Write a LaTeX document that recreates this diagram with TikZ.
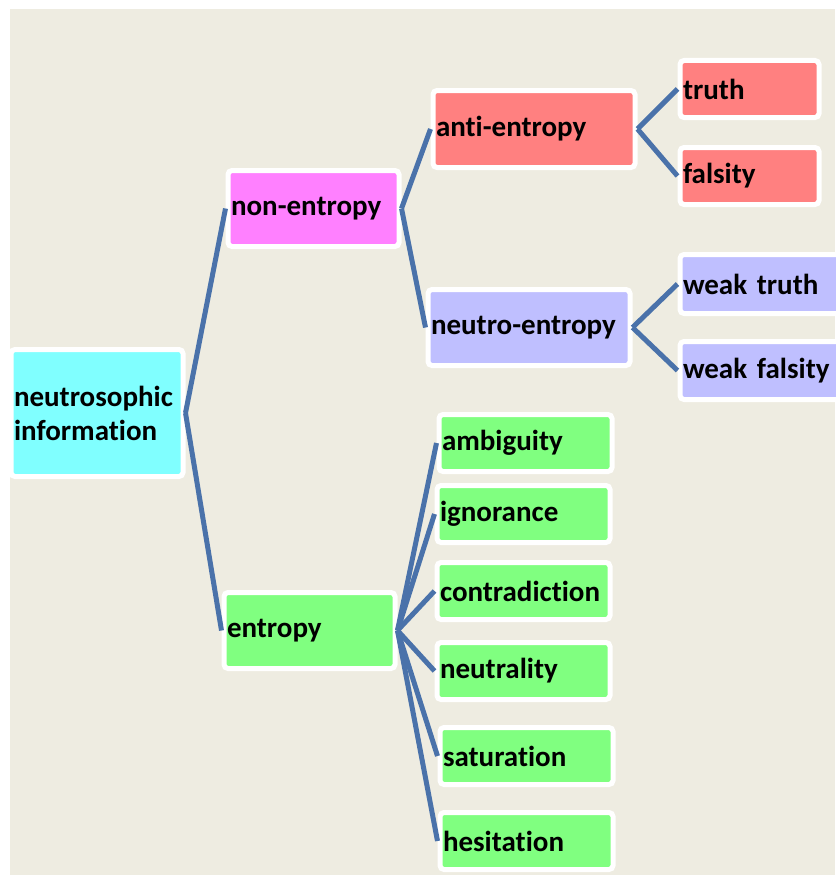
\documentclass[tikz,border=0pt]{standalone}
\usepackage{fontspec}
\setmainfont{Carlito}[Ligatures=NoCommon]
\definecolor{bgtan}{HTML}{EEECE1}
\definecolor{linkblue}{HTML}{4A72AA}
\definecolor{infocyan}{HTML}{80FFFF}
\definecolor{nonpink}{HTML}{FF80FF}
\definecolor{antired}{HTML}{FF8080}
\definecolor{neutrolav}{HTML}{BFBFFF}
\definecolor{entgreen}{HTML}{80FF80}

\begin{document}
\begin{tikzpicture}[x=1pt, y=-1pt,
  box/.style={rectangle, rounded corners=4pt, draw=white, line width=5pt,
    anchor=west, inner xsep=3pt, inner ysep=0pt, align=left,
    font=\bfseries\fontsize{29}{34}\selectfont, minimum height=57pt},
  branch/.style={line width=5pt, draw=linkblue}]

\useasboundingbox (0,0) rectangle (835,875);
\fill[bgtan] (10,9) rectangle (835,875);

\node[box, fill=infocyan, text width=166pt, minimum height=127pt] (info) at (8.5,413) {neutrosophic\\information};

\node[box, fill=nonpink, text width=165pt, minimum height=76pt] (non) at (225.5,208.5) {non-entropy};
\node[box, fill=entgreen, text width=165pt, minimum height=76pt] (ent) at (221.5,630.5) {entropy};

\node[box, fill=antired, text width=196pt, minimum height=77pt] (anti) at (430.5,129) {anti-entropy};
\node[box, fill=neutrolav, text width=196pt, minimum height=76pt] (neutro) at (425.5,327.5) {neutro-entropy};

\node[box, fill=antired, text width=133pt] (truth) at (677.5,89) {truth};
\node[box, fill=antired, text width=133pt] (fals) at (677.5,176) {falsity};
\node[box, fill=neutrolav, text width=166pt, minimum height=59pt] (wtruth) at (677.5,284) {weak truth};
\node[box, fill=neutrolav, text width=166pt, minimum height=58pt] (wfals) at (677.5,370.5) {weak falsity};

\node[box, fill=entgreen, text width=167pt] (amb) at (436.5,443) {ambiguity};
\node[box, fill=entgreen, text width=167pt] (ign) at (434.5,514) {ignorance};
\node[box, fill=entgreen, text width=167pt] (con) at (434.5,591) {contradiction};
\node[box, fill=entgreen, text width=167pt] (neu) at (434.5,671) {neutrality};
\node[box, fill=entgreen, text width=167pt] (sat) at (437.5,756) {saturation};
\node[box, fill=entgreen, text width=167pt] (hes) at (437.5,841) {hesitation};

\draw[branch] (info.east) -- (non.west);
\draw[branch] (info.east) -- (ent.west);

\draw[branch] (non.east) -- (anti.west);
\draw[branch] (non.east) -- (neutro.west);

\draw[branch] (anti.east) -- (truth.west);
\draw[branch] (anti.east) -- (fals.west);
\draw[branch] (neutro.east) -- (wtruth.west);
\draw[branch] (neutro.east) -- (wfals.west);

\foreach \leaf in {amb,ign,con,neu,sat,hes}
  \draw[branch] (ent.east) -- (\leaf.west);

\end{tikzpicture}
\end{document}
